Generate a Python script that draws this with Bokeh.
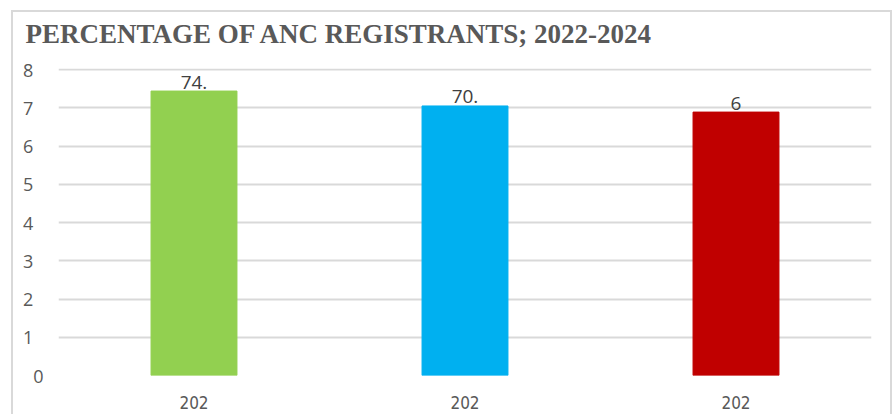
from bokeh.plotting import figure
from bokeh.models import Range1d, FixedTicker
from bokeh.core.properties import value
from bokeh.embed import file_html
from bokeh.resources import INLINE

years = ["2022", "2023", "2024"]
values = [74.4, 70.5, 68.9]
bar_colors = ["#92d050", "#00b0f0", "#c00000"]
data_labels = ["74.", "70.", "6"]
x_tick_labels = ["202", "202", "202"]
y_ticks = [0, 10, 20, 30, 40, 50, 60, 70, 80]
y_tick_labels = ["0", "1\u2007", "2\u2007", "3\u2007", "4\u2007", "5\u2007", "6\u2007", "7\u2007", "8\u2007"]
title_text = "PERCENTAGE OF ANC REGISTRANTS; 2022-2024"

xpos = list(range(len(years)))

box = "linear-gradient(#d9d9d9,#d9d9d9)"
chart_border = {
    "background": (f"{box} 11px 10px / 2px 420px no-repeat, "
                   f"{box} 11px 10px / 881px 2px no-repeat, "
                   f"{box} 890px 10px / 2px 420px no-repeat, white"),
}

p = figure(x_range=Range1d(-0.5, len(years) - 0.5), y_range=Range1d(0, 80.3), width=895, height=414,
           output_backend="svg", toolbar_location=None, styles=chart_border,
           min_border_left=58, min_border_right=24, min_border_top=68, min_border_bottom=39)
p.outline_line_color = None
p.background_fill_color = "white"
p.border_fill_color = None

p.title.text = title_text
p.title.align = "left"
p.title.vertical_align = "top"
p.title.offset = -33
p.title.standoff = 35
p.title.text_font = "Liberation Serif"
p.title.text_font_style = "bold"
p.title.text_font_size = "27px"
p.title.text_color = "#595959"

p.vbar(x=xpos, top=values, width=0.317, color=bar_colors)
p.text(x=xpos, y=values, text=data_labels, text_align="center", text_baseline="alphabetic",
       y_offset=-9, text_font=value("Open Sans"), text_font_size="19px", text_color="#404040")

p.xgrid.grid_line_color = None
p.ygrid.grid_line_color = "#d9d9d9"
p.ygrid.grid_line_width = 2
p.yaxis.ticker = FixedTicker(ticks=y_ticks)
p.yaxis.major_label_overrides = {t: l for t, l in zip(y_ticks, y_tick_labels)}
p.xaxis.ticker = FixedTicker(ticks=xpos)
p.xaxis.major_label_overrides = {i: l for i, l in zip(xpos, x_tick_labels)}

for ax in (p.xaxis[0], p.yaxis[0]):
    ax.axis_line_color = None
    ax.major_tick_line_color = None
    ax.minor_tick_line_color = None
    ax.minor_tick_out = 0
    ax.minor_tick_in = 0
    ax.major_tick_out = 0
    ax.major_tick_in = 0
    ax.major_label_text_color = "#595959"
p.yaxis.major_label_text_font = "Open Sans"
p.yaxis.major_label_text_font_size = "18px"
p.yaxis.major_label_standoff = 15
p.xaxis.major_label_text_font = "DejaVu Sans Condensed"
p.xaxis.major_label_text_font_size = "17px"
p.xaxis.major_label_standoff = 20

open("out.html", "w").write(file_html(p, INLINE))
